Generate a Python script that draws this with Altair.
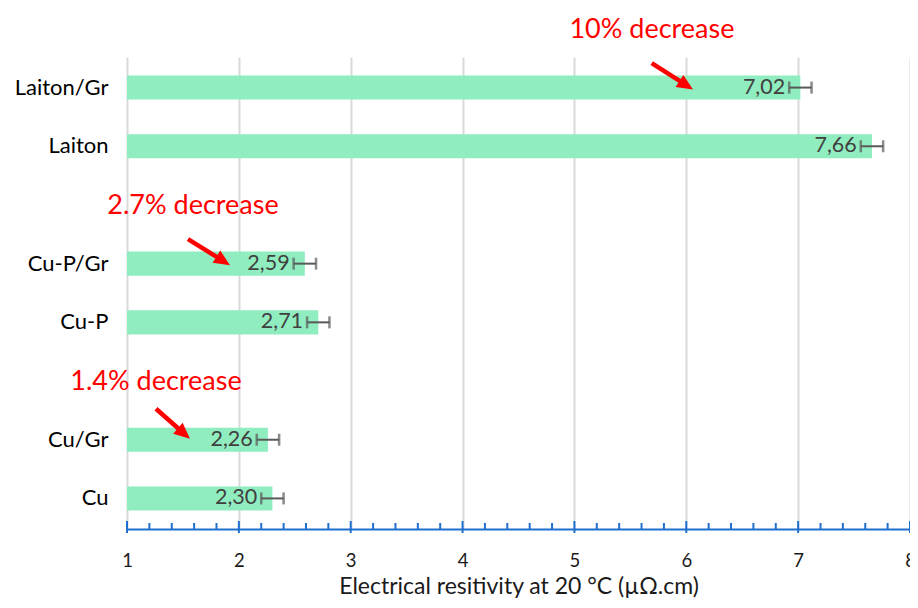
import altair as alt
import pandas as pd

# ---------------- data ----------------
slots = ["Laiton/Gr", "Laiton", " ", "Cu-P/Gr", "Cu-P", "  ", "Cu/Gr", "Cu"]
materials = ["Laiton/Gr", "Laiton", "Cu-P/Gr", "Cu-P", "Cu/Gr", "Cu"]
values = [7.02, 7.66, 2.59, 2.71, 2.26, 2.30]
errors = [0.10, 0.10, 0.10, 0.10, 0.10, 0.10]
value_labels = ["7,02", "7,66", "2,59", "2,71", "2,26", "2,30"]

major_ticks = [1, 2, 3, 4, 5, 6, 7, 8]
minor_ticks = [1.2, 1.4, 1.6, 1.8, 2.2, 2.4, 2.6, 2.8, 3.2, 3.4, 3.6, 3.8,
               4.2, 4.4, 4.6, 4.8, 5.2, 5.4, 5.6, 5.8, 6.2, 6.4, 6.6, 6.8,
               7.2, 7.4, 7.6, 7.8]

ann_texts = ["10% decrease", "2.7% decrease", "1.4% decrease"]
ann_anchor = ["Laiton/Gr", "Cu-P/Gr", "Cu/Gr"]
ann_x = [5.693, 1.590, 1.259]

# arrows: start, shaft end and tip (x in data units, dy in px relative to the bar)
arrow_anchor = ["Laiton/Gr", "Cu-P/Gr", "Cu/Gr"]
arrow_x0 = [5.691, 1.545, 1.259]
arrow_dy0 = [-24.5, -24.5, -31.0]
arrow_x1 = [5.968, 1.827, 1.487]
arrow_dy1 = [-4.6, -5.0, -8.5]
arrow_xt = [6.060, 1.921, 1.563]
arrow_dyt = [2.0, 1.5, -1.0]
arrow_angle = [32.5, 32.0, 41.0]

# ---------------- styling ----------------
FONT = "Lato"
BLUE = "#1f6fcf"
RED = "#ff0000"
GREEN = "#90edbf"
GREY = "#595959"

df = pd.DataFrame({"material": materials, "value": values, "err": errors,
                   "label": value_labels})
df["lo"] = df["value"] - df["err"]
df["hi"] = df["value"] + df["err"]

xscale = alt.Scale(domain=[1, 8], nice=False, zero=False, clamp=True)
yscale = alt.Scale(domain=slots, paddingInner=0.59, paddingOuter=0.316)

base = alt.Chart(df)

bars = base.mark_bar(color=GREEN).encode(
    x=alt.X("value:Q", scale=xscale, axis=alt.Axis(
        values=major_ticks, format="d", grid=True, gridColor="#d9d9d9",
        gridWidth=2, domainColor=BLUE, domainWidth=2, ticks=False, tickSize=0,
        labelFont=FONT, labelFontSize=18.5, labelColor="#1a1a1a", labelPadding=22,
        labelFlush=False, labelOverlap=False,
        title="Electrical resitivity at 20 °C (µΩ.cm)", titleFont=FONT,
        titleFontSize=23, titleFontWeight="normal", titleColor="#1a1a1a",
        titlePadding=6)),
    y=alt.Y("material:N", scale=yscale, axis=alt.Axis(
        title=None, domain=False, ticks=False, grid=False, labelFont=FONT,
        labelFontSize=22, labelColor="#000000", labelPadding=19)),
)

X = lambda f: alt.X(f, scale=xscale)
Y = alt.Y("material:N", scale=yscale)

err_rule = base.mark_rule(color=GREY, strokeWidth=2).encode(
    x=X("lo:Q"), x2="hi:Q", y=Y)
cap_lo = base.mark_tick(color=GREY, thickness=2.5, size=12).encode(
    x=X("lo:Q"), y=Y)
cap_hi = base.mark_tick(color=GREY, thickness=2.5, size=12).encode(
    x=X("hi:Q"), y=Y)

val_text = base.mark_text(align="right", baseline="middle", dx=-4, font=FONT,
                          fontSize=21.5, color="#404040").encode(
    x=X("lo:Q"), y=Y, text="label:N")

major_df = pd.DataFrame({"t": major_ticks})
minor_df = pd.DataFrame({"t": minor_ticks})
major = alt.Chart(major_df).mark_rule(color=BLUE, strokeWidth=2).encode(
    x=X("t:Q"), y=alt.value(464), y2=alt.value(476))
minor = alt.Chart(minor_df).mark_rule(color=BLUE, strokeWidth=2).encode(
    x=X("t:Q"), y=alt.value(466), y2=alt.value(472))

ann_df = pd.DataFrame({"text": ann_texts, "material": ann_anchor, "x": ann_x})
ann = alt.Chart(ann_df).mark_text(color=RED, font=FONT, fontSize=27, dy=-58,
                                  baseline="middle", align="center").encode(
    x=X("x:Q"), y=Y, text="text:N")

HEAD = "M 0 0 L -1 -0.45 L -1 0.45 Z"
arrow_layers = []
for i in range(len(arrow_anchor)):
    adf = pd.DataFrame({"material": [arrow_anchor[i]], "x0": [arrow_x0[i]],
                        "x1": [arrow_x1[i]], "xt": [arrow_xt[i]],
                        "ang": [arrow_angle[i]]})
    shaft = alt.Chart(adf).mark_rule(color=RED, strokeWidth=4.5,
                                     yOffset=arrow_dy0[i],
                                     y2Offset=arrow_dy1[i]).encode(
        x=X("x0:Q"), x2="x1:Q", y=Y, y2="material:N")
    head = alt.Chart(adf).mark_point(shape=HEAD, filled=True, color=RED,
                                     opacity=1, size=1024, strokeWidth=0,
                                     yOffset=arrow_dyt[i]).encode(
        x=X("xt:Q"), y=Y, angle=alt.Angle("ang:Q", scale=None))
    arrow_layers += [shaft, head]

chart = alt.layer(bars, err_rule, cap_lo, cap_hi, val_text, major, minor, ann,
                  *arrow_layers).properties(
    width=783, height=472,
    autosize=alt.AutoSizeParams(type="none"),
    padding={"left": 119, "top": 49, "right": 0, "bottom": 71},
    background="white",
).configure_view(stroke=None)

chart.save("out.html", embed_options={"renderer": "svg", "actions": False})
